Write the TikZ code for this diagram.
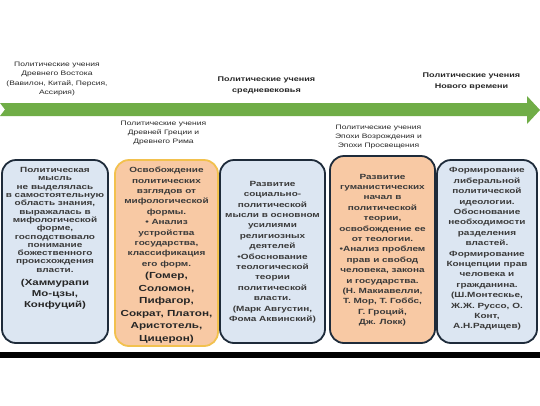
\documentclass[tikz,border=0pt]{standalone}
\usepackage{fontspec}
\setmainfont{Liberation Sans}[FakeStretch=1.33]
\definecolor{arrowgreen}{HTML}{70AD47}
\definecolor{lightblue}{HTML}{DCE6F2}
\definecolor{peach}{HTML}{F8C9A4}
\definecolor{darkedge}{HTML}{1E2B3A}
\definecolor{goldedge}{HTML}{F2C14E}
\definecolor{txtgray}{HTML}{3A3A3A}
\definecolor{lblgray}{HTML}{262626}
\begin{document}
\begin{tikzpicture}[x=1pt,y=-1pt,
  period/.style={align=center,inner sep=0pt,text=lblgray,font=\fontsize{6.4}{9.2}\selectfont},
  bigperiod/.style={align=center,inner sep=0pt,text=lblgray,font=\bfseries\fontsize{6.8}{11}\selectfont},
  boxshape/.style={rounded corners=14pt,line width=1.8pt},
  bluebox/.style={boxshape,draw=darkedge,fill=lightblue},
  peachbox/.style={boxshape,draw=darkedge,fill=peach},
  goldbox/.style={boxshape,draw=goldedge,fill=peach},
  smalltxt/.style={align=center,inner sep=0pt,text=txtgray,font=\bfseries\fontsize{7.5}{10.4}\selectfont},
  densetxt/.style={align=center,inner sep=0pt,text=txtgray,font=\bfseries\fontsize{7.5}{8.33}\selectfont},
  bigtxt/.style={align=center,inner sep=0pt,text=black!85,font=\bfseries\fontsize{8.8}{12.5}\selectfont},
  bigdense/.style={align=center,inner sep=0pt,text=black!85,font=\bfseries\fontsize{8.6}{11}\selectfont}
]
\useasboundingbox (0,0) rectangle (540,405);
\fill[white] (0,0) rectangle (540,405);
% timeline arrow
\fill[arrowgreen] (0,103) -- (527,103) -- (527,96) -- (540,110) -- (527,124) -- (527,116) -- (0,116) -- (5,109.5) -- cycle;
% period labels
\node[period] (east) at (57,79) {Политические учения\\Древнего Востока\\(Вавилон, Китай, Персия,\\Ассирия)};
\node[period] (greece) at (163.5,133) {Политические учения\\Древней Греции и\\Древнего Рима};
\node[bigperiod] (middle) at (266.5,85) {Политические учения\\средневековья};
\node[period] (renais) at (378.5,137) {Политические учения\\Эпохи Возрождения и\\Эпохи Просвещения};
\node[bigperiod] (modern) at (471.5,81) {Политические учения\\Нового времени};
% boxes
\draw[bluebox] (2,160) rectangle (108,343);
\draw[goldbox] (115,160) rectangle (218,346);
\draw[bluebox] (220,160) rectangle (325,343);
\draw[peachbox] (330,156) rectangle (435,343);
\draw[bluebox] (437,160) rectangle (537,343);
% box texts
\node[densetxt,anchor=north] (t1) at (55,167) {Политическая\\мысль\\не выделялась\\в самостоятельную\\область знания,\\выражалась в\\мифологической\\форме,\\господствовало\\понимание\\божественного\\происхождения\\власти.};
\node[bigdense,anchor=north] (n1) at (55,279) {(Хаммурапи\\Мо-цзы,\\Конфуций)};
\node[smalltxt,anchor=north] (t2) at (166.5,167) {Освобождение\\политических\\взглядов от\\мифологической\\формы.\\• Анализ\\устройства\\государства,\\классификация\\его форм.};
\node[bigtxt,anchor=north] (n2) at (166.5,272) {(Гомер,\\Соломон,\\Пифагор,\\Сократ, Платон,\\Аристотель,\\Цицерон)};
\node[smalltxt] (t3) at (272.5,252) {Развитие\\социально-\\политической\\мысли в основном\\усилиями\\религиозных\\деятелей\\•Обоснование\\теологической\\теории\\политической\\власти.\\(Марк Августин,\\Фома Аквинский)};
\node[smalltxt] (t4) at (382.5,250) {Развитие\\гуманистических\\начал в\\политической\\теории,\\освобождение ее\\от теологии.\\•Анализ проблем\\прав и свобод\\человека, закона\\и государства.\\(Н. Макиавелли,\\Т. Мор, Т. Гоббс,\\Г. Гроций,\\Дж. Локк)};
\node[smalltxt] (t5) at (487,249) {Формирование\\либеральной\\политической\\идеологии.\\Обоснование\\необходимости\\разделения\\властей.\\Формирование\\Концепции прав\\человека и\\гражданина.\\(Ш.Монтескье,\\Ж.Ж. Руссо, О.\\Конт,\\А.Н.Радищев)};
% bottom bar
\fill[black] (0,352) rectangle (540,358);
\end{tikzpicture}
\end{document}
